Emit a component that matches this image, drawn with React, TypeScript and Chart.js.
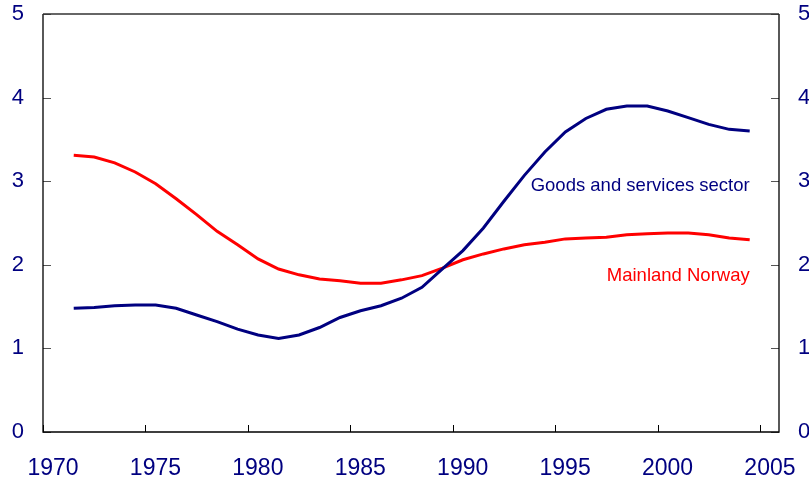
import React, { useEffect, useRef } from "react";
import { Chart, registerables } from "chart.js";

Chart.register(...registerables);

const years = [
  1971, 1972, 1973, 1974, 1975, 1976, 1977, 1978, 1979, 1980, 1981, 1982,
  1983, 1984, 1985, 1986, 1987, 1988, 1989, 1990, 1991, 1992, 1993, 1994,
  1995, 1996, 1997, 1998, 1999, 2000, 2001, 2002, 2003, 2004,
];

const goodsServices = [
  1.48, 1.49, 1.51, 1.52, 1.52, 1.48, 1.4, 1.32, 1.23, 1.16, 1.12, 1.16,
  1.25, 1.37, 1.45, 1.51, 1.6, 1.73, 1.95, 2.17, 2.44, 2.76, 3.07, 3.35,
  3.59, 3.75, 3.86, 3.9, 3.9, 3.84, 3.76, 3.68, 3.62, 3.6,
];

const mainlandNorway = [
  3.31, 3.29, 3.22, 3.11, 2.97, 2.79, 2.6, 2.4, 2.24, 2.07, 1.95, 1.88,
  1.83, 1.81, 1.78, 1.78, 1.82, 1.87, 1.96, 2.06, 2.13, 2.19, 2.24, 2.27,
  2.31, 2.32, 2.33, 2.36, 2.37, 2.38, 2.38, 2.36, 2.32, 2.3,
];

const xTickValues = [1970, 1975, 1980, 1985, 1990, 1995, 2000, 2005];
const yTickValues = [0, 1, 2, 3, 4, 5];

const seriesLabels = ["Goods and services sector", "Mainland Norway"];
const labelAnchors = [
  { x: 2004.5, y: 2.94 },
  { x: 2004.5, y: 1.87 },
];

const NAVY = "#000080";
const RED = "#ff0000";
const FONT = "'Liberation Sans', Arial, sans-serif";

const framePlugin = {
  id: "frameAndLabels",
  afterDraw(chart: any) {
    const { ctx, chartArea } = chart;
    const xs = chart.scales.x;
    const ys = chart.scales.y;
    const { left, right, top, bottom } = chartArea;
    ctx.save();
    ctx.strokeStyle = "#555";
    ctx.lineWidth = 1;
    ctx.beginPath();
    yTickValues.forEach((v) => {
      const py = Math.round(ys.getPixelForValue(v)) + 0.5;
      ctx.moveTo(left, py);
      ctx.lineTo(left + 8, py);
      ctx.moveTo(right, py);
      ctx.lineTo(right - 8, py);
    });
    ctx.stroke();
    ctx.strokeStyle = "#000";
    ctx.beginPath();
    xTickValues.forEach((v) => {
      const px = Math.round(xs.getPixelForValue(v)) + 0.5;
      ctx.moveTo(px, bottom);
      ctx.lineTo(px, bottom - 7);
    });
    ctx.stroke();
    ctx.strokeStyle = "#000";
    ctx.lineWidth = 1.3;
    ctx.beginPath();
    ctx.moveTo(left, top);
    ctx.lineTo(left, bottom);
    ctx.lineTo(right, bottom);
    ctx.lineTo(right, top);
    ctx.stroke();
    ctx.strokeStyle = "#333";
    ctx.beginPath();
    ctx.moveTo(left, top);
    ctx.lineTo(right, top);
    ctx.stroke();
    ctx.font = `18.5px ${FONT}`;
    ctx.textAlign = "right";
    ctx.textBaseline = "middle";
    const colors = [NAVY, RED];
    seriesLabels.forEach((t, i) => {
      ctx.fillStyle = colors[i];
      ctx.fillText(
        t,
        xs.getPixelForValue(labelAnchors[i].x),
        ys.getPixelForValue(labelAnchors[i].y)
      );
    });
    ctx.restore();
  },
};

export default function App() {
  const canvasRef = useRef<HTMLCanvasElement | null>(null);

  useEffect(() => {
    if (!canvasRef.current) return;
    const toPoints = (vals: number[]) =>
      years.map((yr, i) => ({ x: yr + 0.5, y: vals[i] }));

    const yAxisCommon = {
      type: "linear" as const,
      min: 0,
      max: 5,
      grid: { display: false, drawTicks: false },
      border: { display: false },
      afterBuildTicks: (scale: any) => {
        scale.ticks = yTickValues.map((v) => ({ value: v }));
      },
      ticks: {
        color: NAVY,
        padding: 19,
        font: { family: FONT, size: 22 },
      },
    };

    const chart = new Chart(canvasRef.current, {
      type: "line",
      data: {
        datasets: [
          {
            label: seriesLabels[0],
            data: toPoints(goodsServices),
            borderColor: NAVY,
            borderWidth: 3,
            pointRadius: 0,
            tension: 0,
            fill: false,
          },
          {
            label: seriesLabels[1],
            data: toPoints(mainlandNorway),
            borderColor: RED,
            borderWidth: 3,
            pointRadius: 0,
            tension: 0,
            fill: false,
          },
        ],
      },
      options: {
        animation: false,
        responsive: true,
        maintainAspectRatio: false,
        layout: { padding: { top: 14, left: 0, right: 0, bottom: 0 } },
        plugins: {
          legend: { display: false },
          tooltip: { enabled: false },
        },
        scales: {
          x: {
            type: "linear",
            min: 1970,
            max: 2005.93,
            grid: { display: false, drawTicks: false },
            border: { display: false },
            afterBuildTicks: (scale: any) => {
              scale.ticks = xTickValues.map((v) => ({ value: v }));
            },
            afterFit: (scale: any) => {
              scale.height = 52;
              scale.paddingLeft = 0;
              scale.paddingRight = 0;
            },
            ticks: {
              color: NAVY,
              padding: 23,
              labelOffset: 10,
              maxRotation: 0,
              autoSkip: false,
              callback: (v: any) => String(v),
              font: { family: FONT, size: 23 },
            },
          },
          y: {
            ...yAxisCommon,
            position: "left",
            afterFit: (scale: any) => {
              scale.width = 43;
              scale.paddingTop = 0;
              scale.paddingBottom = 0;
            },
          },
          y2: {
            ...yAxisCommon,
            position: "right",
            afterFit: (scale: any) => {
              scale.width = 30;
              scale.paddingTop = 0;
              scale.paddingBottom = 0;
            },
          },
        },
      },
      plugins: [framePlugin],
    });
    return () => chart.destroy();
  }, []);

  return (
    <div
      style={{
        position: "absolute",
        left: 0,
        top: 0,
        width: 809,
        height: 484,
        background: "#fff",
      }}
    >
      <canvas ref={canvasRef} />
    </div>
  );
}
